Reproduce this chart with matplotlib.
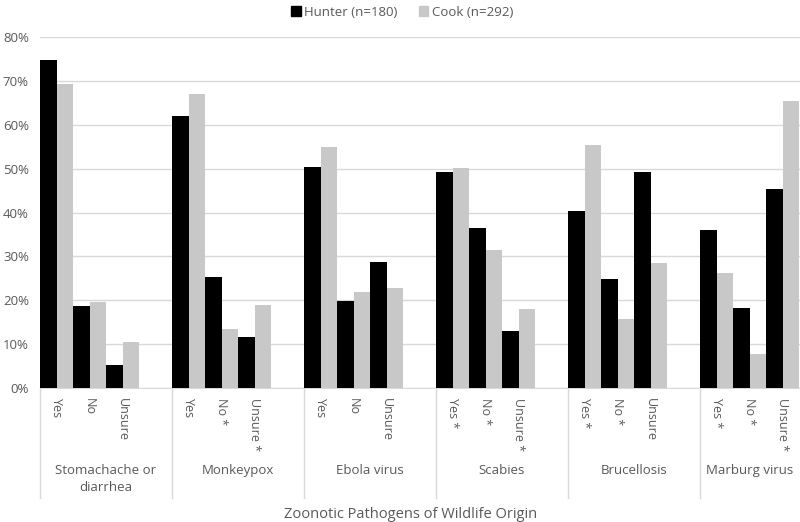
import matplotlib
matplotlib.use("Agg")
import matplotlib.pyplot as plt
from matplotlib.patches import Patch
from matplotlib.transforms import blended_transform_factory

plt.rcParams['font.family'] = ['Open Sans', 'DejaVu Sans']

# data (percent)
pathogens = ["Stomachache or\ndiarrhea", "Monkeypox", "Ebola virus",
             "Scabies", "Brucellosis", "Marburg virus"]
responses = [
    ["Yes", "No", "Unsure"],
    ["Yes", "No *", "Unsure *"],
    ["Yes", "No", "Unsure"],
    ["Yes *", "No *", "Unsure *"],
    ["Yes *", "No *", "Unsure"],
    ["Yes *", "No *", "Unsure *"],
]
hunter = [
    [74.8, 18.7, 5.3],
    [62.1, 25.4, 11.6],
    [50.5, 19.9, 28.7],
    [49.2, 36.6, 13.1],
    [40.4, 24.9, 49.2],
    [36.0, 18.2, 45.4],
]
cook = [
    [69.3, 19.7, 10.4],
    [67.0, 13.5, 19.0],
    [55.0, 21.8, 22.7],
    [50.1, 31.5, 18.1],
    [55.4, 15.7, 28.6],
    [26.2, 7.7, 65.5],
]

text_col = "#595959"
grid_col = "#d9d9d9"
slots = 4  # three answers plus an empty slot per group
bw = 0.5

fig = plt.figure(figsize=(8, 5.22), dpi=100)
ax = fig.add_axes([0.05, 134 / 522, 0.99, 350.7 / 522])

xs, labels = [], []
for g in range(len(pathogens)):
    for k in range(3):
        c = g * slots + k + 0.5
        ax.bar(c - bw / 2, hunter[g][k] / 100, bw, color="black", zorder=3)
        ax.bar(c + bw / 2, cook[g][k] / 100, bw, color="#c8c8c8", zorder=3)
        xs.append(c)
        labels.append(responses[g][k])

xmax = 23.03
ax.set_xlim(0, slots * len(pathogens))
ax.set_ylim(0, 0.8)
ax.set_yticks([i / 10 for i in range(9)])
ax.set_yticklabels(["%d%%" % (i * 10) for i in range(9)])
ax.yaxis.grid(True, color=grid_col, lw=1, zorder=0)
ax.set_xticks(xs)
ax.set_xticklabels(labels, rotation=270, va="top", ha="center")
ax.tick_params(axis="x", length=0, pad=7, labelsize=9, labelcolor=text_col)
ax.tick_params(axis="y", length=0, pad=8, labelsize=9.5, labelcolor=text_col)
for s in ["top", "right", "left"]:
    ax.spines[s].set_visible(False)
ax.spines["bottom"].set_color(grid_col)

tr = blended_transform_factory(ax.transData, ax.transAxes)
for g in range(len(pathogens) + 1):
    ax.plot([g * slots, g * slots], [0, -0.314], color=grid_col, lw=1,
            transform=tr, clip_on=False)
for g, name in enumerate(pathogens):
    lo = g * slots
    hi = min((g + 1) * slots, xmax)
    ax.text((lo + hi) / 2, -0.218, name, transform=tr, ha="center", va="top",
            fontsize=9.5, color=text_col, linespacing=1.35)

fig.text(411 / 800, 7 / 522, "Zoonotic Pathogens of Wildlife Origin",
         ha="center", va="center", fontsize=10.5, color=text_col)

handles = [Patch(color="black"), Patch(color="#c8c8c8")]
fig.legend(handles, ["Hunter (n=180)", "Cook (n=292)"], ncol=2,
           loc="upper center", bbox_to_anchor=(0.503, 1.012), frameon=False,
           handlelength=0.7, handleheight=0.7, handletextpad=0.3,
           columnspacing=1.6, labelcolor=text_col, fontsize=9.5)

fig.savefig("out.png", dpi=100)
